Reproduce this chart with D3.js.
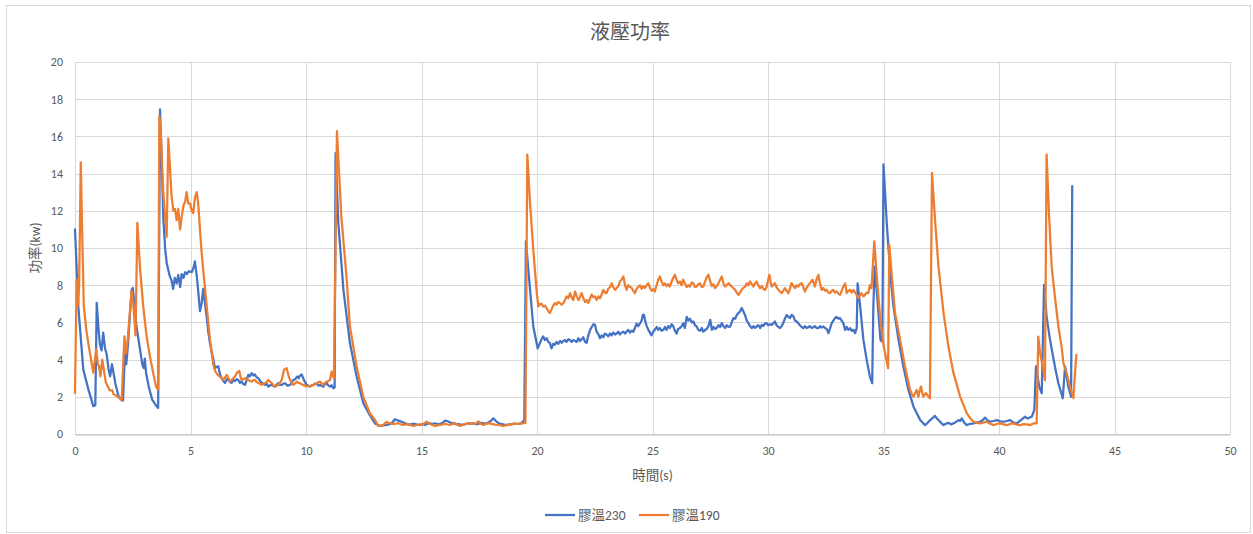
<!DOCTYPE html>
<html>
<head>
<meta charset="utf-8">
<script src="https://cdn.jsdelivr.net/npm/d3@7/dist/d3.min.js"></script>
<style>
  html, body { margin: 0; padding: 0; background: #fff; }
  svg { display: block; }
  text { font-family: Calibri, Carlito, "Noto Sans CJK TC", "Noto Sans", sans-serif; fill: #595959; }
</style>
</head>
<body>
<svg id="chart" width="1253" height="534"></svg>
<script>
// Hydraulic power recorded over one cycle, for two glue temperatures.
const chartTitle = "液壓功率";
const xTitle = "時間(s)";
const yTitle = "功率(kw)";
const seriesNames = ["膠溫230", "膠溫190"];
const seriesColors = ["#4472C4", "#ED7D31"];
const xTicks = [0, 5, 10, 15, 20, 25, 30, 35, 40, 45, 50];
const yTicks = [0, 2, 4, 6, 8, 10, 12, 14, 16, 18, 20];

// 膠溫230 : [time (s), power (kW)]
const power230 = [
  [0.00,11.0],[0.14,6.9],[0.36,3.45],[0.58,2.4],[0.79,1.5],[0.88,1.55],[0.94,7.05],[1.02,5.6],[1.08,4.8],[1.15,4.5],
  [1.22,5.45],[1.30,4.6],[1.37,4.3],[1.45,3.5],[1.52,3.1],[1.60,3.75],[1.68,3.2],[1.75,2.7],[1.88,2.05],[2.00,1.85],
  [2.08,1.8],[2.16,4.35],[2.22,3.75],[2.30,4.9],[2.38,6.5],[2.45,7.75],[2.50,7.85],[2.58,6.9],[2.66,5.8],[2.74,5.15],
  [2.84,4.35],[2.92,3.7],[2.98,3.55],[3.02,4.05],[3.08,3.25],[3.20,2.5],[3.34,1.85],[3.50,1.55],[3.60,1.4],[3.68,17.45],
  [3.75,14.9],[3.82,11.7],[3.90,10.0],[3.97,9.2],[4.10,8.5],[4.18,8.25],[4.25,7.8],[4.32,8.4],[4.40,8.1],[4.47,8.55],
  [4.55,7.9],[4.62,8.6],[4.70,8.4],[4.77,8.7],[4.85,8.6],[4.92,8.75],[5.05,8.7],[5.12,8.9],[5.19,9.28],[5.27,8.5],
  [5.34,7.6],[5.41,6.6],[5.48,7.0],[5.55,7.8],[5.62,7.1],[5.70,6.3],[5.77,5.5],[5.84,4.9],[5.92,4.4],[5.99,4.0],
  [6.06,3.55],[6.20,3.65],[6.28,3.2],[6.35,3.0],[6.42,2.85],[6.50,2.75],[6.57,2.95],[6.64,2.9],[6.71,2.8],[6.78,2.75],
  [6.85,2.9],[6.93,2.85],[7.00,2.95],[7.07,2.9],[7.14,2.75],[7.21,2.82],[7.28,2.7],[7.36,2.64],[7.43,2.9],[7.50,3.18],
  [7.57,3.1],[7.65,3.27],[7.72,3.15],[7.79,3.2],[7.86,3.05],[7.94,3.0],[8.01,2.85],[8.08,2.75],[8.16,2.7],[8.23,2.64],
  [8.30,2.7],[8.37,2.55],[8.45,2.62],[8.52,2.64],[8.59,2.58],[8.66,2.55],[8.73,2.66],[8.80,2.73],[8.87,2.64],[8.95,2.64],
  [9.02,2.7],[9.09,2.73],[9.20,2.6],[9.31,2.64],[9.38,2.75],[9.45,2.9],[9.53,2.95],[9.62,3.09],[9.68,3.0],[9.74,3.14],
  [9.81,3.2],[9.88,3.0],[9.95,2.8],[10.03,2.64],[10.10,2.6],[10.17,2.55],[10.24,2.62],[10.32,2.64],[10.39,2.7],[10.46,2.73],
  [10.53,2.6],[10.61,2.64],[10.68,2.58],[10.75,2.55],[10.82,2.68],[10.90,2.73],[10.97,2.6],[11.04,2.55],[11.11,2.62],[11.18,2.46],
  [11.24,2.5],[11.28,15.1],[11.40,11.35],[11.62,7.75],[11.90,4.9],[12.19,3.1],[12.48,1.65],[12.55,1.5],[12.77,1.0],[12.99,0.57],
  [13.20,0.43],[13.35,0.46],[13.49,0.49],[13.60,0.52],[13.71,0.58],[13.85,0.79],[14.00,0.72],[14.14,0.66],[14.29,0.58],[14.40,0.52],
  [14.50,0.49],[14.61,0.55],[14.72,0.54],[14.83,0.5],[14.94,0.49],[15.05,0.53],[15.15,0.49],[15.26,0.55],[15.37,0.58],[15.48,0.54],
  [15.59,0.58],[15.70,0.52],[15.80,0.54],[15.91,0.6],[16.02,0.72],[16.10,0.7],[16.17,0.66],[16.27,0.6],[16.38,0.58],[16.49,0.52],
  [16.60,0.54],[16.70,0.5],[16.81,0.49],[16.92,0.54],[17.03,0.58],[17.13,0.55],[17.24,0.58],[17.35,0.52],[17.46,0.54],[17.57,0.6],
  [17.68,0.58],[17.79,0.55],[17.89,0.62],[18.00,0.7],[18.11,0.84],[18.18,0.75],[18.25,0.66],[18.36,0.58],[18.47,0.54],[18.58,0.5],
  [18.69,0.49],[18.80,0.52],[18.90,0.52],[19.01,0.56],[19.12,0.54],[19.23,0.55],[19.33,0.58],[19.45,0.75],[19.52,10.36],[19.70,7.75],
  [19.84,5.78],[20.03,4.6],[20.08,4.75],[20.13,4.9],[20.20,5.1],[20.27,5.25],[20.34,5.05],[20.42,5.15],[20.49,4.95],[20.56,4.88],
  [20.63,4.6],[20.70,4.85],[20.78,4.8],[20.85,4.95],[20.92,4.85],[21.00,5.0],[21.07,4.9],[21.14,5.0],[21.21,5.05],[21.28,4.95],
  [21.36,5.1],[21.43,5.05],[21.50,4.95],[21.57,5.05],[21.65,5.0],[21.72,4.95],[21.79,5.15],[21.86,5.0],[21.93,5.1],[22.00,5.2],
  [22.08,4.95],[22.15,4.9],[22.22,5.3],[22.30,5.6],[22.37,5.75],[22.44,5.9],[22.51,5.87],[22.58,5.5],[22.66,5.35],[22.73,5.15],
  [22.80,5.3],[22.87,5.2],[22.94,5.4],[23.01,5.35],[23.08,5.25],[23.16,5.4],[23.23,5.3],[23.30,5.45],[23.38,5.35],[23.45,5.4],
  [23.52,5.5],[23.59,5.35],[23.66,5.45],[23.74,5.5],[23.81,5.4],[23.88,5.5],[23.95,5.6],[24.03,5.45],[24.10,5.55],[24.17,5.5],
  [24.24,5.7],[24.31,5.94],[24.38,5.8],[24.46,5.95],[24.53,6.1],[24.58,6.4],[24.63,6.4],[24.70,6.0],[24.75,5.8],[24.82,5.6],
  [24.89,5.45],[24.96,5.3],[25.03,5.5],[25.10,5.6],[25.18,5.75],[25.25,5.6],[25.32,5.7],[25.39,5.55],[25.47,5.6],[25.54,5.75],
  [25.61,5.6],[25.68,5.8],[25.75,5.7],[25.83,5.9],[25.90,5.8],[25.97,5.55],[26.04,5.4],[26.11,5.65],[26.19,5.7],[26.26,5.8],
  [26.33,5.95],[26.40,5.7],[26.48,6.3],[26.55,6.1],[26.62,6.2],[26.70,6.0],[26.77,6.05],[26.84,5.85],[26.91,5.78],[26.98,5.6],
  [27.06,5.55],[27.13,5.7],[27.20,5.5],[27.28,5.6],[27.35,5.65],[27.42,5.8],[27.50,6.14],[27.57,5.6],[27.64,5.75],[27.71,5.65],
  [27.78,5.7],[27.86,5.85],[27.93,5.75],[28.00,5.96],[28.07,5.8],[28.14,5.7],[28.21,5.85],[28.29,5.75],[28.36,5.78],[28.43,6.0],
  [28.50,6.23],[28.58,6.2],[28.65,6.4],[28.72,6.5],[28.79,6.59],[28.86,6.77],[28.93,6.6],[29.00,6.41],[29.08,6.1],[29.15,5.96],
  [29.22,5.8],[29.30,5.69],[29.37,5.8],[29.44,5.7],[29.51,5.78],[29.58,5.85],[29.66,5.7],[29.73,5.87],[29.80,5.8],[29.87,5.95],
  [29.94,5.96],[30.01,5.85],[30.09,5.9],[30.16,5.87],[30.23,5.95],[30.30,6.05],[30.37,5.85],[30.45,5.75],[30.52,5.69],[30.59,5.8],
  [30.66,5.96],[30.73,6.2],[30.81,6.4],[30.88,6.3],[30.95,6.23],[31.02,6.4],[31.10,6.32],[31.17,6.1],[31.24,6.05],[31.31,5.96],
  [31.38,5.85],[31.46,5.75],[31.53,5.69],[31.60,5.8],[31.67,5.7],[31.74,5.74],[31.81,5.8],[31.89,5.7],[31.96,5.74],[32.03,5.8],
  [32.10,5.7],[32.18,5.69],[32.25,5.8],[32.32,5.72],[32.40,5.78],[32.47,5.7],[32.54,5.65],[32.62,5.42],[32.69,5.7],[32.76,5.96],
  [32.83,6.1],[32.90,6.23],[32.97,6.3],[33.05,6.2],[33.12,6.23],[33.19,6.1],[33.26,5.96],[33.34,5.6],[33.41,5.75],[33.48,5.6],
  [33.55,5.69],[33.62,5.55],[33.70,5.6],[33.77,5.42],[33.84,5.69],[33.88,8.1],[33.98,7.0],[34.13,5.06],[34.27,4.0],[34.41,3.09],
  [34.51,2.73],[34.56,6.86],[34.62,9.0],[34.72,7.5],[34.87,5.06],[34.95,4.97],[35.00,14.49],[35.14,11.35],[35.29,8.65],[35.43,6.86],
  [35.65,5.06],[35.86,3.63],[36.08,2.37],[36.30,1.47],[36.59,0.75],[36.70,0.6],[36.80,0.48],[36.91,0.6],[37.02,0.75],[37.12,0.85],
  [37.23,0.97],[37.30,0.85],[37.38,0.75],[37.49,0.6],[37.60,0.48],[37.70,0.55],[37.81,0.6],[37.92,0.52],[38.03,0.57],[38.14,0.65],
  [38.25,0.75],[38.32,0.7],[38.39,0.84],[38.50,0.6],[38.61,0.48],[38.75,0.55],[38.90,0.57],[39.05,0.62],[39.19,0.66],[39.30,0.75],
  [39.40,0.88],[39.51,0.72],[39.62,0.66],[39.77,0.7],[39.91,0.75],[40.05,0.68],[40.20,0.66],[40.34,0.7],[40.48,0.75],[40.62,0.62],
  [40.77,0.57],[40.95,0.75],[41.13,0.93],[41.20,0.85],[41.27,0.84],[41.35,0.9],[41.42,0.93],[41.53,1.3],[41.60,3.63],[41.74,2.55],
  [41.85,2.19],[41.95,8.02],[42.06,6.32],[42.21,5.06],[42.42,3.63],[42.57,2.73],[42.76,1.92],[42.86,3.63],[43.00,2.55],[43.12,2.0],
  [43.17,13.32]
];

// 膠溫190 : [time (s), power (kW)]
const power190 = [
  [0.00,2.2],[0.07,8.3],[0.14,6.9],[0.18,8.1],[0.25,14.6],[0.31,10.9],[0.38,6.9],[0.49,5.6],[0.60,4.7],[0.79,3.3],
  [0.92,4.55],[0.99,3.75],[1.04,3.65],[1.10,3.1],[1.18,4.0],[1.33,2.8],[1.50,2.35],[1.62,2.35],[1.66,2.15],[1.80,2.05],
  [1.95,1.9],[2.02,1.8],[2.14,5.25],[2.21,4.35],[2.28,5.05],[2.45,7.7],[2.52,7.05],[2.62,5.3],[2.70,11.35],[2.81,9.0],
  [2.95,6.9],[3.10,5.25],[3.24,4.2],[3.38,3.3],[3.52,2.5],[3.60,2.4],[3.65,17.08],[3.71,16.4],[3.82,13.0],[3.97,10.6],
  [4.04,15.9],[4.18,12.8],[4.26,12.0],[4.33,12.1],[4.40,11.5],[4.47,12.1],[4.55,11.0],[4.62,11.7],[4.70,12.3],[4.77,12.5],
  [4.83,13.0],[4.90,12.4],[4.98,12.4],[5.05,12.0],[5.12,11.88],[5.19,12.7],[5.27,13.0],[5.34,12.3],[5.41,11.0],[5.48,9.8],
  [5.56,8.7],[5.70,6.9],[5.84,5.1],[5.99,3.72],[6.06,3.4],[6.13,3.27],[6.20,3.15],[6.28,3.09],[6.35,3.0],[6.42,2.91],
  [6.50,3.05],[6.57,3.18],[6.64,3.0],[6.71,2.82],[6.78,2.9],[6.85,3.0],[6.93,3.1],[7.00,3.27],[7.05,3.35],[7.11,3.39],
  [7.16,3.1],[7.21,2.91],[7.28,2.95],[7.36,3.0],[7.43,2.95],[7.50,2.91],[7.57,2.85],[7.65,2.82],[7.72,2.88],[7.79,2.91],
  [7.86,2.8],[7.94,2.73],[8.01,2.7],[8.08,2.64],[8.16,2.7],[8.23,2.73],[8.30,2.8],[8.37,2.91],[8.45,2.8],[8.52,2.73],
  [8.59,2.62],[8.66,2.55],[8.73,2.6],[8.80,2.64],[8.87,2.75],[8.95,2.91],[9.00,3.2],[9.05,3.45],[9.10,3.5],[9.16,3.54],
  [9.22,3.25],[9.28,3.0],[9.36,2.8],[9.45,2.64],[9.53,2.72],[9.60,2.82],[9.67,2.75],[9.74,2.73],[9.81,2.68],[9.88,2.64],
  [9.95,2.6],[10.03,2.55],[10.10,2.6],[10.17,2.55],[10.24,2.6],[10.32,2.64],[10.39,2.68],[10.46,2.73],[10.53,2.78],[10.61,2.82],
  [10.68,2.72],[10.75,2.64],[10.82,2.75],[10.90,2.82],[10.97,2.85],[11.04,2.91],[11.11,3.36],[11.17,3.1],[11.21,3.0],[11.34,16.28],
  [11.53,11.7],[11.75,8.5],[11.90,5.8],[12.19,3.64],[12.48,2.0],[12.77,1.1],[12.99,0.75],[13.13,0.43],[13.24,0.46],[13.35,0.49],
  [13.42,0.58],[13.49,0.66],[13.56,0.6],[13.63,0.58],[13.70,0.55],[13.78,0.54],[13.89,0.56],[14.00,0.58],[14.11,0.52],[14.22,0.49],
  [14.33,0.52],[14.43,0.54],[14.54,0.48],[14.65,0.43],[14.76,0.47],[14.86,0.49],[14.97,0.52],[15.08,0.54],[15.15,0.6],[15.22,0.66],
  [15.30,0.6],[15.37,0.54],[15.48,0.48],[15.58,0.43],[15.69,0.46],[15.80,0.49],[15.91,0.52],[16.02,0.54],[16.13,0.51],[16.23,0.49],
  [16.34,0.54],[16.45,0.58],[16.56,0.5],[16.67,0.43],[16.78,0.49],[16.88,0.54],[16.99,0.56],[17.10,0.58],[17.21,0.55],[17.32,0.54],
  [17.39,0.6],[17.46,0.68],[17.57,0.55],[17.68,0.49],[17.79,0.54],[17.89,0.58],[17.97,0.56],[18.04,0.54],[18.18,0.5],[18.33,0.49],
  [18.43,0.46],[18.54,0.43],[18.65,0.46],[18.76,0.49],[18.87,0.52],[18.98,0.54],[19.08,0.55],[19.19,0.54],[19.30,0.56],[19.41,0.58],
  [19.50,0.6],[19.58,15.02],[19.70,12.4],[19.84,9.9],[19.99,7.57],[20.06,6.86],[20.13,7.0],[20.20,7.0],[20.27,6.85],[20.35,6.9],
  [20.42,6.75],[20.49,6.6],[20.56,6.5],[20.63,6.7],[20.70,6.9],[20.78,7.04],[20.85,6.95],[20.92,7.1],[20.99,7.04],[21.07,6.95],
  [21.14,7.04],[21.21,7.2],[21.28,7.4],[21.36,7.3],[21.43,7.57],[21.50,7.35],[21.57,7.2],[21.65,7.66],[21.72,7.4],[21.79,7.2],
  [21.86,7.35],[21.93,7.57],[22.01,7.3],[22.08,7.1],[22.15,7.2],[22.22,7.04],[22.30,7.3],[22.37,7.5],[22.44,7.35],[22.51,7.4],
  [22.58,7.2],[22.66,7.4],[22.73,7.3],[22.80,7.5],[22.87,7.75],[22.94,7.6],[23.01,7.57],[23.08,7.8],[23.16,7.9],[23.23,8.1],
  [23.30,7.9],[23.38,7.75],[23.45,7.85],[23.52,7.93],[23.59,8.2],[23.66,8.3],[23.74,8.47],[23.81,8.0],[23.88,7.75],[23.95,8.0],
  [24.03,7.9],[24.10,7.85],[24.17,7.7],[24.24,7.57],[24.31,7.8],[24.38,7.9],[24.46,8.0],[24.53,7.8],[24.60,7.95],[24.67,7.85],
  [24.75,8.0],[24.82,8.1],[24.89,7.85],[24.96,7.7],[25.03,7.8],[25.10,7.66],[25.18,8.0],[25.25,8.3],[25.32,8.47],[25.39,8.2],
  [25.47,8.0],[25.54,8.1],[25.61,7.95],[25.68,8.05],[25.75,7.93],[25.83,8.2],[25.90,8.4],[25.97,8.56],[26.04,8.3],[26.11,8.1],
  [26.19,8.2],[26.26,8.0],[26.33,8.3],[26.40,8.1],[26.48,7.9],[26.55,8.0],[26.62,7.93],[26.70,8.15],[26.77,8.1],[26.84,7.9],
  [26.91,7.93],[26.98,8.05],[27.06,8.1],[27.13,7.9],[27.20,7.93],[27.28,8.2],[27.35,8.45],[27.42,8.56],[27.50,8.2],[27.57,7.95],
  [27.64,8.05],[27.71,7.84],[27.78,7.95],[27.86,8.11],[27.93,8.3],[28.00,8.47],[28.07,8.1],[28.14,7.93],[28.21,8.0],[28.29,8.11],
  [28.36,8.0],[28.43,7.93],[28.50,7.85],[28.58,7.75],[28.65,7.6],[28.72,7.48],[28.79,7.6],[28.86,7.75],[28.93,7.85],[29.01,7.93],
  [29.08,8.1],[29.15,8.0],[29.22,8.2],[29.30,8.05],[29.37,7.93],[29.44,8.1],[29.51,8.2],[29.58,8.0],[29.66,7.84],[29.73,7.95],
  [29.80,7.8],[29.87,7.75],[29.94,7.9],[30.01,8.3],[30.06,8.56],[30.11,8.2],[30.16,7.93],[30.23,8.0],[30.30,8.11],[30.37,7.9],
  [30.45,7.75],[30.52,7.65],[30.59,7.57],[30.66,7.7],[30.73,7.84],[30.81,7.7],[30.88,7.57],[30.95,7.8],[31.02,8.11],[31.10,7.95],
  [31.17,7.84],[31.24,8.0],[31.31,7.93],[31.38,8.05],[31.46,8.11],[31.53,7.9],[31.60,7.66],[31.67,7.85],[31.74,8.0],[31.81,8.11],
  [31.87,8.2],[31.93,8.29],[31.98,8.1],[32.03,7.93],[32.10,8.3],[32.18,8.56],[32.25,8.1],[32.32,7.75],[32.40,7.85],[32.47,7.7],
  [32.54,7.75],[32.62,7.6],[32.69,7.57],[32.76,7.7],[32.83,7.75],[32.90,7.6],[32.97,7.66],[33.05,7.55],[33.12,7.48],[33.19,7.7],
  [33.26,7.93],[33.34,8.1],[33.41,7.57],[33.48,7.7],[33.55,7.75],[33.62,7.6],[33.70,7.75],[33.77,7.6],[33.84,7.48],[33.91,7.3],
  [33.98,7.45],[34.05,7.57],[34.13,7.4],[34.20,7.48],[34.27,7.6],[34.34,7.57],[34.41,8.0],[34.48,7.84],[34.60,10.36],[34.72,8.29],
  [34.87,6.05],[35.01,4.7],[35.20,3.54],[35.25,10.18],[35.35,8.65],[35.50,6.5],[35.72,5.06],[35.93,3.63],[36.15,2.37],[36.23,2.15],
  [36.30,2.0],[36.37,2.2],[36.44,2.37],[36.51,2.0],[36.56,2.3],[36.62,2.55],[36.68,2.2],[36.73,2.0],[36.79,2.15],[36.84,2.2],
  [36.92,2.05],[37.01,1.92],[37.10,14.04],[37.24,11.35],[37.38,9.0],[37.60,6.5],[37.81,4.7],[38.03,3.27],[38.32,2.0],[38.61,1.11],
  [38.75,0.85],[38.90,0.66],[39.05,0.6],[39.19,0.57],[39.34,0.62],[39.48,0.66],[39.62,0.55],[39.77,0.48],[39.91,0.54],[40.06,0.57],
  [40.20,0.52],[40.35,0.48],[40.49,0.54],[40.63,0.57],[40.78,0.5],[40.92,0.48],[41.06,0.53],[41.21,0.52],[41.35,0.48],[41.49,0.57],
  [41.63,0.57],[41.70,5.24],[41.78,4.34],[41.85,3.9],[41.92,3.45],[41.99,2.9],[42.06,15.02],[42.17,11.7],[42.28,9.0],[42.42,7.39],
  [42.57,5.78],[42.71,4.7],[42.79,3.81],[42.93,3.27],[43.07,2.55],[43.22,1.92],[43.29,3.27],[43.35,4.25]
];

const series = [
  { name: seriesNames[0], color: seriesColors[0], pts: power230 },
  { name: seriesNames[1], color: seriesColors[1], pts: power190 }
];

const svg = d3.select("#chart");
const plot = { left: 75, right: 1230, top: 62, bottom: 434 };

// outer chart frame
svg.append("rect")
  .attr("x", 6.5).attr("y", 5.5)
  .attr("width", 1244).attr("height", 527)
  .attr("fill", "#fff").attr("stroke", "#d9d9d9").attr("stroke-width", 1);

const x = d3.scaleLinear().domain([0, 50]).range([plot.left, plot.right]);
const y = d3.scaleLinear().domain([0, 20]).range([plot.bottom, plot.top]);

// gridlines
const grid = svg.append("g");
grid.selectAll("line.h").data(yTicks).join("line")
  .attr("x1", plot.left).attr("x2", plot.right)
  .attr("y1", d => Math.round(y(d)) + 0.5).attr("y2", d => Math.round(y(d)) + 0.5)
  .attr("stroke", "#d9d9d9").attr("stroke-width", 1);
grid.selectAll("line.v").data(xTicks).join("line")
  .attr("x1", d => Math.round(x(d)) + 0.5).attr("x2", d => Math.round(x(d)) + 0.5)
  .attr("y1", plot.top).attr("y2", plot.bottom)
  .attr("stroke", "#d9d9d9").attr("stroke-width", 1);

// axes (labels only, Excel style)
const tickFont = 'Calibri, Carlito, "Noto Sans", sans-serif';
const xAxis = d3.axisBottom(x).tickValues(xTicks).tickSize(0).tickPadding(12);
svg.append("g")
  .attr("transform", `translate(0,${Math.round(y(0)) + 0.5})`)
  .call(xAxis)
  .call(g => g.select(".domain").attr("stroke", "#bfbfbf"))
  .call(g => g.selectAll("text").attr("font-size", 12).attr("fill", "#595959").attr("font-family", tickFont));

const yAxis = d3.axisLeft(y).tickValues(yTicks).tickSize(0).tickPadding(12);
svg.append("g")
  .attr("transform", `translate(${plot.left},0)`)
  .call(yAxis)
  .call(g => g.select(".domain").remove())
  .call(g => g.selectAll("text").attr("font-size", 12).attr("fill", "#595959").attr("font-family", tickFont));

// series lines
const line = d3.line().x(d => x(d[0])).y(d => y(d[1]));
svg.append("g").selectAll("path").data(series).join("path")
  .attr("d", d => line(d.pts))
  .attr("fill", "none")
  .attr("stroke", d => d.color)
  .attr("stroke-width", 2.25)
  .attr("stroke-linejoin", "round")
  .attr("stroke-linecap", "round");

// titles
svg.append("text")
  .attr("x", 630).attr("y", 39)
  .attr("text-anchor", "middle")
  .attr("font-size", 20)
  .text(chartTitle);

svg.append("text")
  .attr("x", (plot.left + plot.right) / 2).attr("y", 480)
  .attr("text-anchor", "middle")
  .attr("font-size", 13.5)
  .text(xTitle);

svg.append("text")
  .attr("transform", `translate(40,${(plot.top + plot.bottom) / 2}) rotate(-90)`)
  .attr("text-anchor", "middle")
  .attr("font-size", 13.5)
  .text(yTitle);

// legend
const legend = svg.append("g").attr("transform", "translate(545,515)");
const legendX = [0, 94];
series.forEach((s, i) => {
  const g = legend.append("g").attr("transform", `translate(${legendX[i]},0)`);
  g.append("line").attr("x1", 0).attr("x2", 30).attr("y1", 0).attr("y2", 0)
    .attr("stroke", s.color).attr("stroke-width", 2.25);
  g.append("text").attr("x", 33).attr("y", 5).attr("font-size", 13.5).text(s.name);
});
</script>
</body>
</html>
